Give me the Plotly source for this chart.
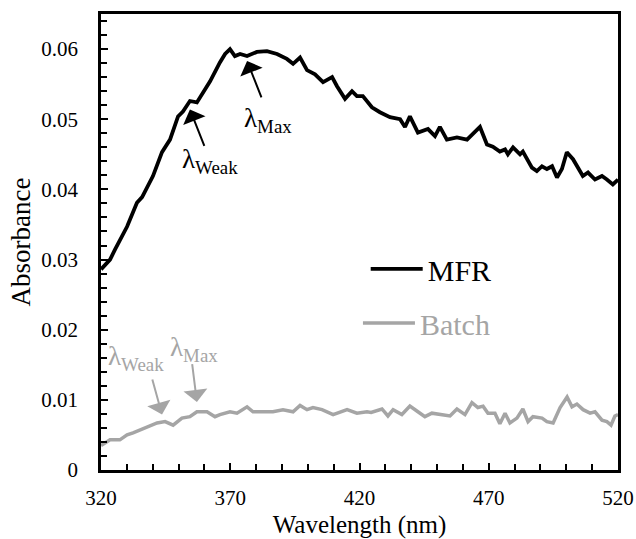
import plotly.graph_objects as go

# ---- data ----
mfr_wl = [320, 323.5, 325.4, 330.1, 333.9, 335.9, 340.1, 343.6, 346.7, 349.8, 351.7, 354.4, 357.1, 359.5,
          362.2, 366.0, 368.0, 369.9, 371.8, 373.8, 376.5, 380.3, 384.2, 388.1, 391.9, 394.3, 397.0, 399.7,
          402.8, 405.9, 409.4, 411.3, 414.4, 417.1, 419.0, 421.3, 424.8, 427.9, 431.8, 435.7, 437.6, 439.5,
          442.6, 446.5, 449.2, 451.1, 453.8, 457.7, 461.6, 466.6, 469.3, 471.6, 474.3, 476.3, 477.4, 479.4,
          482.1, 483.2, 486.7, 488.6, 490.6, 492.5, 494.5, 496.4, 498.3, 500.2, 502.6, 506.4, 508.4, 511.1,
          513.8, 515.7, 518.0, 520]
mfr_abs = [0.0286, 0.0300, 0.0314, 0.0347, 0.0381, 0.0389, 0.0419, 0.0453, 0.0471, 0.0504, 0.0511, 0.0526,
           0.0524, 0.0539, 0.0554, 0.0581, 0.0593, 0.0600, 0.0590, 0.0593, 0.0590, 0.0596, 0.0597, 0.0593,
           0.0586, 0.0579, 0.0588, 0.0570, 0.0564, 0.0553, 0.0560, 0.0547, 0.0529, 0.0540, 0.0533, 0.0533,
           0.0517, 0.0510, 0.0503, 0.0500, 0.0489, 0.0504, 0.0481, 0.0486, 0.0476, 0.0489, 0.0471, 0.0474,
           0.0471, 0.0489, 0.0464, 0.0461, 0.0454, 0.0457, 0.0450, 0.0460, 0.0450, 0.0454, 0.0431, 0.0426,
           0.0433, 0.0429, 0.0433, 0.0417, 0.0429, 0.0453, 0.0443, 0.0419, 0.0424, 0.0414, 0.0419, 0.0414,
           0.0407, 0.0414]

batch_wl = [320, 323.5, 327.3, 330.1, 332.4, 335.1, 337.8, 341.7, 344.8, 347.9, 351.3, 354.4, 357.1, 361.0,
            364.1, 366.0, 369.9, 372.6, 376.5, 378.8, 382.7, 386.5, 390.4, 394.3, 397.0, 399.7, 402.0, 405.5,
            409.8, 415.2, 419.0, 422.9, 424.5, 428.7, 431.0, 433.0, 436.4, 439.5, 442.6, 445.3, 448.0, 452.3,
            455.0, 457.7, 460.8, 463.5, 465.8, 467.8, 469.7, 472.4, 474.3, 476.3, 478.2, 480.9, 483.2, 485.2,
            487.1, 490.6, 492.5, 494.9, 497.6, 500.3, 502.2, 504.1, 506.5, 509.2, 511.1, 513.8, 515.7, 517.3,
            518.8, 520]
batch_abs = [0.0035, 0.0043, 0.0043, 0.0050, 0.0053, 0.0057, 0.0061, 0.0067, 0.0069, 0.0064, 0.0074, 0.0076,
             0.0083, 0.0083, 0.0076, 0.0079, 0.0083, 0.0081, 0.0090, 0.0083, 0.0083, 0.0083, 0.0086, 0.0083,
             0.0092, 0.0086, 0.0089, 0.0086, 0.0079, 0.0086, 0.0081, 0.0083, 0.0082, 0.0087, 0.0077, 0.0086,
             0.0079, 0.0091, 0.0083, 0.0076, 0.0081, 0.0079, 0.0077, 0.0087, 0.0079, 0.0096, 0.0089, 0.0091,
             0.0081, 0.0081, 0.0066, 0.0081, 0.0067, 0.0074, 0.0087, 0.0069, 0.0076, 0.0074, 0.0069, 0.0067,
             0.0089, 0.0104, 0.0090, 0.0094, 0.0086, 0.0081, 0.0083, 0.0071, 0.0069, 0.0064, 0.0077, 0.0079]

series_names = ["MFR", "Batch"]
x_tick_vals = [320, 370, 420, 470, 520]
y_tick_vals = [0, 0.01, 0.02, 0.03, 0.04, 0.05, 0.06]
y_tick_text = ["0", "0.01", "0.02", "0.03", "0.04", "0.05", "0.06"]

# annotation markers: (label, tip_x, tip_y, tail_x, tail_y, text_x, text_y, color)
marker_notes = [
    ("λ<sub>Weak</sub>", 354.4, 0.0514, 360.2, 0.0460, 350.6, 0.0441, "black"),
    ("λ<sub>Max</sub>", 376.5, 0.0583, 382.3, 0.0529, 374.6, 0.0499, "black"),
    ("λ<sub>Weak</sub>", 343.6, 0.0079, 339.7, 0.0131, 321.8, 0.0160, "#a5a5a5"),
    ("λ<sub>Max</sub>", 357.1, 0.0097, 355.2, 0.0153, 345.8, 0.0173, "#a5a5a5"),
]

GRAY = "#a5a5a5"
FONT = "Liberation Serif"

fig = go.Figure()
fig.add_trace(go.Scatter(x=mfr_wl, y=mfr_abs, mode="lines", name=series_names[0], showlegend=True,
                         line=dict(color="black", width=3.8), legend="legend"))
fig.add_trace(go.Scatter(x=batch_wl, y=batch_abs, mode="lines", showlegend=True,
                         name='<span style="color:%s">%s</span>' % (GRAY, series_names[1]),
                         line=dict(color=GRAY, width=3.5), legend="legend2"))

for label, tx, ty, ax_, ay_, lx, ly, col in marker_notes:
    fig.add_annotation(x=tx, y=ty, ax=ax_, ay=ay_, xref="x", yref="y", axref="x", ayref="y",
                       text="", showarrow=True, arrowhead=1, arrowsize=2.0, arrowwidth=2,
                       arrowcolor=col, standoff=0)
    fig.add_annotation(x=lx, y=ly, xref="x", yref="y", text=label, showarrow=False,
                       xanchor="left", yanchor="middle",
                       font=dict(family=FONT, size=27, color=col))

fig.update_layout(
    width=636, height=539,
    margin=dict(l=101, r=18, t=14, b=69),
    paper_bgcolor="white", plot_bgcolor="white",
    showlegend=True,
    font=dict(family=FONT, color="black", size=21),
    legend=dict(x=0.512, y=0.441, xanchor="left", yanchor="middle", visible=True,
                font=dict(family=FONT, size=30, color="black"),
                bgcolor="rgba(0,0,0,0)", itemwidth=52),
    legend2=dict(x=0.497, y=0.3226, xanchor="left", yanchor="middle", visible=True,
                 font=dict(family=FONT, size=30, color=GRAY),
                 bgcolor="rgba(0,0,0,0)", itemwidth=52),
    xaxis=dict(range=[320, 520], tickvals=x_tick_vals, ticks="inside", ticklen=7, tickwidth=2,
               tickcolor="black", showline=True, linecolor="black", linewidth=2.5, mirror=True,
               showgrid=False, zeroline=False, ticklabelstandoff=7, automargin=False,
               tickfont=dict(family=FONT, size=21),
               minor=dict(dtick=10, ticks="inside", ticklen=6, tickwidth=2, tickcolor="black"),
               title=dict(text="Wavelength (nm)", font=dict(family=FONT, size=25), standoff=12)),
    yaxis=dict(range=[0, 0.065], tickvals=y_tick_vals, ticktext=y_tick_text, ticks="inside", ticklen=7,
               tickwidth=2, tickcolor="black", showline=True, linecolor="black", linewidth=2.5,
               mirror=True, showgrid=False, zeroline=False, ticklabelstandoff=16, automargin=False,
               tickfont=dict(family=FONT, size=21),
               minor=dict(dtick=0.002, ticks="inside", ticklen=6, tickwidth=2, tickcolor="black"),
               title=dict(text="Absorbance", font=dict(family=FONT, size=27), standoff=3)),
)

fig.write_html("out.html", config={"displayModeBar": False},
               post_script="document.body.style.margin='0';")
